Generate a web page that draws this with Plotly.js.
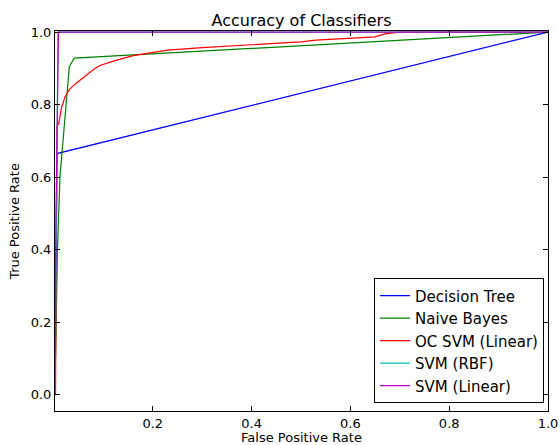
<!DOCTYPE html>
<html>
<head>
<meta charset="utf-8">
<script src="https://cdn.plot.ly/plotly-3.0.1.min.js"></script>
<style>html,body{margin:0;padding:0;background:#fff;}#chart{width:560px;height:445px;}</style>
</head>
<body>
<div id="chart"></div>
<script>
const seriesNames = ["Decision Tree", "Naive Bayes", "OC SVM (Linear)", "SVM (RBF)", "SVM (Linear)"];
const seriesColors = ["#0000ff", "#008000", "#ff0000", "#00bfbf", "#bf00bf"];

const dtFpr = [0.002, 0.006, 1.0];
const dtTpr = [0.0, 0.665, 1.0];

const nbFpr = [0.003, 0.007, 0.012, 0.031, 0.041, 1.0];
const nbTpr = [0.1, 0.4, 0.6, 0.905, 0.928, 1.0];

const ocFpr = [0.003, 0.006, 0.01, 0.015, 0.022, 0.03, 0.043, 0.06, 0.08, 0.093, 0.12, 0.16, 0.23, 0.3, 0.38, 0.45, 0.5, 0.53, 0.6, 0.65, 0.67, 0.7, 1.0];
const ocTpr = [0.0, 0.74, 0.75, 0.79, 0.82, 0.84, 0.857, 0.875, 0.897, 0.908, 0.92, 0.935, 0.95, 0.957, 0.963, 0.968, 0.973, 0.978, 0.983, 0.987, 0.995, 1.0, 1.0];

const rbfFpr = [0.002, 0.005, 0.008, 1.0];
const rbfTpr = [0.0, 0.5, 1.0, 1.0];

const linFpr = [0.002, 0.004, 0.009, 1.0];
const linTpr = [0.0, 0.5, 1.0, 1.0];

const xTicks = [0.2, 0.4, 0.6, 0.8, 1.0];
const yTicks = [0.0, 0.2, 0.4, 0.6, 0.8, 1.0];

const xs = [dtFpr, nbFpr, ocFpr, rbfFpr, linFpr];
const ys = [dtTpr, nbTpr, ocTpr, rbfTpr, linTpr];

const traces = seriesNames.map((n, i) => ({
  type: "scatter", mode: "lines", name: n,
  x: xs[i], y: ys[i],
  line: {color: seriesColors[i], width: 1.2}
}));

const font = {family: "DejaVu Sans, sans-serif", color: "#000"};
const axisCommon = {
  showgrid: false, zeroline: false, showline: true, linecolor: "#000", linewidth: 1,
  mirror: "ticks", ticks: "inside", ticklen: 5, tickcolor: "#000", tickwidth: 1,
  tickfont: Object.assign({size: 13}, font), tickformat: ".1f"
};

const layout = {
  width: 560, height: 445,
  margin: {l: 55, r: 12, t: 31, b: 34},
  paper_bgcolor: "#fff", plot_bgcolor: "#fff",
  font: font,
  title: {text: "Accuracy of Classifiers", font: Object.assign({size: 16}, font),
          x: 0.5, xref: "paper", xanchor: "center", y: 1, yref: "paper", yanchor: "bottom", pad: {b: 5}},
  xaxis: Object.assign({}, axisCommon, {
    range: [0.002, 1.0], tickvals: xTicks,
    title: {text: "False Positive Rate", font: Object.assign({size: 13}, font), standoff: 3}
  }),
  yaxis: Object.assign({}, axisCommon, {
    range: [-0.045, 1.003], tickvals: yTicks,
    title: {text: "True Positive Rate", font: Object.assign({size: 13}, font), standoff: 8}
  }),
  showlegend: true,
  legend: {
    x: 0.992, xanchor: "right", y: 0.02, yanchor: "bottom",
    bgcolor: "#fff", bordercolor: "#000", borderwidth: 1,
    font: Object.assign({size: 15}, font), tracegroupgap: 0
  }
};

Plotly.newPlot("chart", traces, layout, {displayModeBar: false, staticPlot: true});
</script>
</body>
</html>
